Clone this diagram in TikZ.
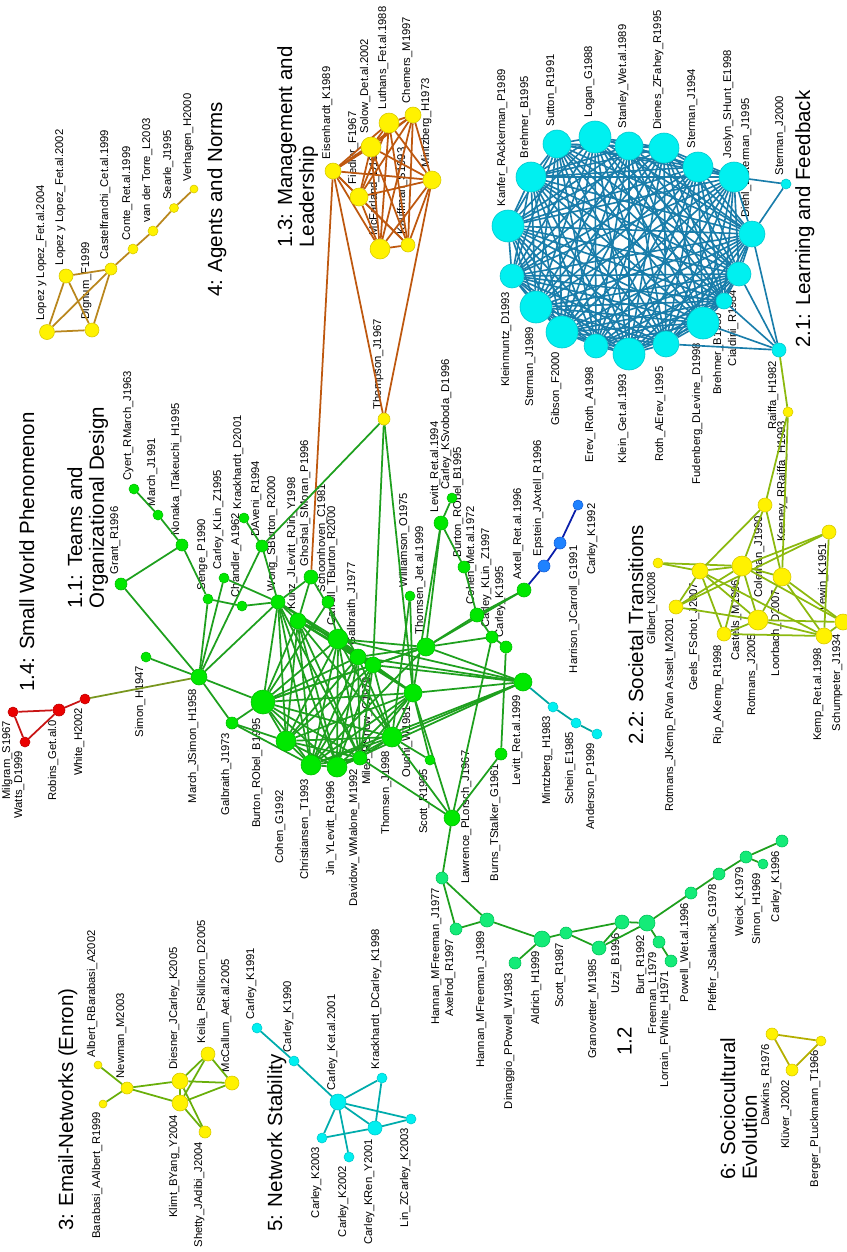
\documentclass[tikz,border=0pt]{standalone}
\usepackage{fontspec}
\setmainfont{Liberation Sans}
\usepackage{tikz}

\definecolor{grnF}{RGB}{0,232,0}
\definecolor{grnD}{RGB}{0,190,0}
\definecolor{grnE}{RGB}{30,160,30}
\definecolor{sprF}{RGB}{20,235,120}
\definecolor{sprD}{RGB}{0,195,90}
\definecolor{yelF}{RGB}{255,242,0}
\definecolor{yelD}{RGB}{215,200,0}
\definecolor{cyaF}{RGB}{0,240,240}
\definecolor{cyaD}{RGB}{0,200,205}
\definecolor{redF}{RGB}{235,0,0}
\definecolor{redD}{RGB}{190,0,0}
\definecolor{bluF}{RGB}{30,130,255}
\definecolor{bluD}{RGB}{20,95,215}
\definecolor{learnE}{RGB}{25,125,170}
\definecolor{mgmtE}{RGB}{190,88,15}
\definecolor{agntE}{RGB}{185,135,30}
\definecolor{socE}{RGB}{140,185,15}
\definecolor{mailE}{RGB}{105,175,10}
\definecolor{stabE}{RGB}{0,172,172}
\definecolor{evoE}{RGB}{180,175,0}
\definecolor{redE}{RGB}{200,20,20}
\definecolor{bluE}{RGB}{10,30,170}
\definecolor{tealE}{RGB}{0,165,160}
\definecolor{linkE}{RGB}{120,150,30}

\pgfdeclarelayer{lbls}
\pgfdeclarelayer{edges}
\pgfsetlayers{lbls,edges,main}

\newcommand\lblfont{\fontsize{9.6}{10}\selectfont}
\newcommand\ttlfont{\fontsize{17.5}{18.5}\selectfont}

\tikzset{
  pap/.style   = {circle, inner sep=0pt, line width=0.5pt, minimum size=#1*0.6mm},
  gp/.style    = {pap=#1, fill=grnF, draw=grnD},
  sp/.style    = {pap=#1, fill=sprF, draw=sprD},
  yp/.style    = {pap=#1, fill=yelF, draw=yelD},
  cp/.style    = {pap=#1, fill=cyaF, draw=cyaD},
  rp/.style    = {pap=#1, fill=redF, draw=redD},
  bp/.style    = {pap=#1, fill=bluF, draw=bluD},
  lbl/.style   = {rotate=90, font=\lblfont, inner sep=0.3pt},
  title/.style = {rotate=90, font=\ttlfont, inner sep=0pt, align=left,
                  anchor=north west},
  ge/.style    = {draw=grnE, line width=1.5pt},
  le/.style    = {draw=learnE, line width=1.4pt},
  me/.style    = {draw=mgmtE, line width=1.5pt},
  ae/.style    = {draw=agntE, line width=1.5pt},
  se/.style    = {draw=socE, line width=1.5pt},
  ee/.style    = {draw=mailE, line width=1.5pt},
  te/.style    = {draw=stabE, line width=1.5pt},
  ve/.style    = {draw=evoE, line width=1.5pt},
  re/.style    = {draw=redE, line width=1.5pt},
  be/.style    = {draw=bluE, line width=1.5pt},
  ce/.style    = {draw=tealE, line width=1.5pt},
}

% label above / below a paper node
\newcommand\lup[3][2.5pt]{\begin{pgfonlayer}{lbls}\node[lbl, anchor=south west] (#2-t) at ([yshift=#1]#2.north) {#3};\end{pgfonlayer}}
\newcommand\ldn[3][2.5pt]{\begin{pgfonlayer}{lbls}\node[lbl, anchor=south east] (#2-t) at ([yshift=-#1]#2.south) {#3};\end{pgfonlayer}}
\newcommand\pup[4]{\node[#1] (#2) at (#3) {}; \lup{#2}{#4}}
\newcommand\pdn[4]{\node[#1] (#2) at (#3) {}; \ldn{#2}{#4}}
% all pairs of a list
\newcommand\clique[2]{\foreach \a [count=\i] in {#2}{\foreach \b [count=\j] in {#2}{\ifnum\i<\j\relax\draw[#1] (\a) -- (\b);\fi}}}

\begin{document}
\begin{tikzpicture}[x=0.3mm, y=-0.3mm]
  \useasboundingbox (0,0) rectangle (847,1252);

  % cluster titles
  \node[title] (t14) at (19,692)  {1.4: Small World Phenomenon};
  \node[title] (t11) at (67,609)  {1.1: Teams and\\Organizational Design};
  \node[title] (t4)  at (207,297) {4: Agents and Norms};
  \node[title] (t13) at (277,248) {1.3: Management and\\Leadership};
  \node[title] (t21) at (795,348) {2.1: Learning and Feedback};
  \node[title] (t22) at (628,745) {2.2: Societal Transitions};
  \node[title] (t3)  at (58,1231) {3: Email-Networks (Enron)};
  \node[title] (t5)  at (267,1232) {5: Network Stability};
  \node[title] (t12) at (617,1056) {1.2};
  \node[title] (t6)  at (720,1180) {6: Sociocultural\\Evolution};

  % 1.4 small world
  \pdn{rp=5}{milgram}{13,712}{Milgram\_S1967}
  \pdn{rp=5}{watts}{25,742}{Watts\_D1999}
  \pdn{rp=6}{robins}{59,710}{Robins\_Get.al.0}
  \pdn{rp=5}{whiteh}{85,699}{White\_H2002}

  % 4 agents and norms
  \pup{yp=7.5}{lopez04}{47,332}{Lopez y Lopez\_Fet.al.2004}
  \pup{yp=7}{lopez02}{66,276}{Lopez y Lopez\_Fet.al.2002}
  \pup{yp=7}{dignum}{92,330}{Dignum\_F1999}
  \pup{yp=6}{castel}{111,269}{Castelfranchi\_Cet.al.1999}
  \pup{yp=5}{conte}{133,249}{Conte\_Ret.al.1999}
  \pup{yp=5}{vdtorre}{153,231}{van der Torre\_L2003}
  \pup{yp=4.5}{searle}{174,208}{Searle\_J1995}
  \pup{yp=4}{verhagen}{194,189}{Verhagen\_H2000}

  % 1.3 management and leadership
  \pup{yp=8}{eisen}{333,171}{Eisenhardt\_K1989}
  \pup{yp=9}{fiedler}{359,197}{Fiedler\_F1967}
  \pup{yp=10}{solow}{371,147}{Solow\_Det.al.2002}
  \pup{yp=10}{luthans}{389,123}{Luthans\_Fet.al.1988}
  \pup{yp=8}{chemers}{413,115}{Chemers\_M1997}
  \pup{yp=9}{mintz73}{432,180}{Mintzberg\_H1973}
  \pup{yp=10}{mcfar}{380,249}{McFarland\_D1959}
  \pup{yp=7}{kauff}{408,245}{Kauffman\_S1993}
  \pup{yp=6}{thompson}{384,419}{Thompson\_J1967}

  % 2.1 learning and feedback
  \pup{cp=16}{kanfer}{508,226}{Kanfer\_RAckerman\_P1989}
  \pup{cp=15}{brehm95}{531,177}{Brehmer\_B1995}
  \pup{cp=14}{sutton}{557,144}{Sutton\_R1991}
  \pup{cp=16}{logan}{595,137}{Logan\_G1988}
  \pup{cp=14}{stanley}{629,146}{Stanley\_Wet.al.1989}
  \pup{cp=15}{dienes}{664,148}{Dienes\_ZFahey\_R1995}
  \pup{cp=15}{ster94}{698,167}{Sterman\_J1994}
  \pup{cp=15}{joslyn}{734,177}{Joslyn\_SHunt\_E1998}
  \pup{cp=13}{diehl}{752,234}{Diehl\_ESterman\_J1995}
  \pdn{cp=12}{cialdini}{739,274}{Cialdini\_R1984}
  \pdn{cp=8}{brehm80}{724,301}{Brehmer\_B1980}
  \pdn{cp=16}{fudenb}{703,323}{Fudenberg\_DLevine\_D1998}
  \node[cp=13] (rotherev) at (666,344) {};
  \ldn[7.5pt]{rotherev}{Roth\_AErev\_I1995}
  \pdn{cp=16}{klein}{629,354}{Klein\_Get.al.1993}
  \node[cp=12] (erevroth) at (596,346) {};
  \ldn[7pt]{erevroth}{Erev\_IRoth\_A1998}
  \pdn{cp=16}{gibson}{562,332}{Gibson\_F2000}
  \pdn{cp=16}{ster89}{536,307}{Sterman\_J1989}
  \pdn{cp=12}{kleinm}{512,276}{Kleinmuntz\_D1993}
  \pup{cp=5}{ster00}{786,184}{Sterman\_J2000}
  \pdn{cp=7}{raiffa82}{779,350}{Raiffa\_H1982}

  % 2.2 societal transitions
  \pdn{yp=5}{keeney}{788,412}{Keeney\_RRaiffa\_H1993}
  \pdn{yp=7}{coleman}{765,505}{Coleman\_J1990}
  \pdn{yp=7}{lewin}{829,532}{Lewin\_K1951}
  \pdn{yp=5}{gilbert}{658,563}{Gilbert\_N2008}
  \pdn{yp=8}{geels}{700,571}{Geels\_FSchot\_J2007}
  \pdn{yp=10}{castells}{742,566}{Castells\_M1996}
  \pdn{yp=9}{loorb}{782,577}{Loorbach\_D2007}
  \pdn{yp=7}{rotjk}{676,607}{Rotmans\_JKemp\_RVan Asselt\_M2001}
  \pdn{yp=10}{rot05}{758,620}{Rotmans\_J2005}
  \pdn{yp=7}{rip}{724,634}{Rip\_AKemp\_R1998}
  \pdn{yp=8}{kemp}{824,636}{Kemp\_Ret.al.1998}
  \pdn{yp=8}{schump}{843,622}{Schumpeter\_J1934}

  % 1.1 teams and organizational design
  \pup{gp=5}{cyert}{134,489}{Cyert\_RMarch\_J1963}
  \pup{gp=5}{march91}{158,515}{March\_J1991}
  \pup{gp=6}{nonaka}{182,545}{Nonaka\_ITakeuchi\_H1995}
  \pup{gp=6}{grant}{121,584}{Grant\_R1996}
  \pup{gp=5}{senge}{208,599}{Senge\_P1990}
  \pup{gp=5}{cklin95}{224,578}{Carley\_KLin\_Z1995}
  \pup{gp=5}{chandler}{242,606}{Chandler\_A1962}
  \pup{gp=5}{krack01}{244,518}{Krackhardt\_D2001}
  \pup{gp=6}{daveni}{262,546}{DAveni\_R1994}
  \pup{gp=7}{wong}{278,602}{Wong\_SBurton\_R2000}
  \pup{gp=8}{kunz}{298,621}{Kunz\_JLevitt\_RJin\_Y1998}
  \pup{gp=7}{ghoshal}{311,577}{Ghoshal\_SMoran\_P1996}
  \pup{gp=6}{schoon}{328,602}{Schoonhoven\_C1981}
  \pup{gp=10}{carroll}{338,639}{Carroll\_TBurton\_R2000}
  \pup{gp=8}{galb77}{358,657}{Galbraith\_J1977}
  \pdn{gp=8}{miles}{373,665}{Miles\_RSnow\_C1978}
  \pup{gp=5}{willi}{410,596}{Williamson\_O1975}
  \pup{gp=9}{thom99}{426,647}{Thomsen\_Jet.al.1999}
  \pup{gp=7}{lev94}{441,523}{Levitt\_Ret.al.1994}
  \pup{gp=5}{csvob}{452,498}{Carley\_KSvoboda\_D1996}
  \pup{gp=6}{burtU}{464,567}{Burton\_RObel\_B1995}
  \pup{gp=7}{cohen72}{477,615}{Cohen\_Met.al.1972}
  \pup{gp=6}{cklin97}{492,637}{Carley\_KLin\_Z1997}
  \pup{gp=6}{ck95}{506,647}{Carley\_K1995}
  \pup{gp=7}{axtell}{524,590}{Axtell\_Ret.al.1996}
  \pdn{gp=9}{lev99}{523,682}{Levitt\_Ret.al.1999}
  \pdn{gp=5}{simon47}{146,657}{Simon\_H1947}
  \pdn{gp=8}{msimon}{199,677}{March\_JSimon\_H1958}
  \pdn{gp=6}{galb73}{232,723}{Galbraith\_J1973}
  \pdn{gp=12}{burton95}{263,702}{Burton\_RObel\_B1995}
  \node[gp=10] (coheng) at (286,741) {};
  \ldn[11.5mm]{coheng}{Cohen\_G1992}
  \pdn{gp=10}{christ}{311,765}{Christiansen\_T1993}
  \pdn{gp=10}{jin}{337,767}{Jin\_YLevitt\_R1996}
  \pdn{gp=7}{davidow}{360,758}{Davidow\_WMalone\_M1992}
  \pdn{gp=10}{thom98}{392,737}{Thomsen\_J1998}
  \pdn{gp=9}{ouchi}{413,693}{Ouchi\_W1981}
  \pdn{gp=5}{scott95}{430,760}{Scott\_R1995}
  \pdn{gp=6}{burns}{501,754}{Burns\_TStalker\_G1961}
  \node[gp=8] (lawr) at (452,818) {};
  \begin{pgfonlayer}{lbls}
    \node[lbl, anchor=south east] (lawr-t) at (472,750) {Lawrence\_PLorsch\_J1967};
  \end{pgfonlayer}

  % small side chains
  \pup{bp=6}{epstein}{544,566}{Epstein\_JAxtell\_R1996}
  \node[bp=6] (harrison) at (560,543) {};
  \node[bp=5] (ck92) at (578,505) {};
  \begin{pgfonlayer}{lbls}
    \node[lbl, anchor=south east] (harrison-t) at (580,545) {Harrison\_JCarroll\_G1991};
    \node[lbl, anchor=south east] (ck92-t) at (598,503) {Carley\_K1992};
  \end{pgfonlayer}
  \pdn{cp=5}{mintz83}{553,707}{Mintzberg\_H1983}
  \pdn{cp=5}{schein}{576,723}{Schein\_E1985}
  \pdn{cp=5}{anders}{597,734}{Anderson\_P1999}

  % 1.2
  \pdn{sp=6}{hann77}{442,878}{Hannan\_MFreeman\_J1977}
  \pdn{sp=6}{axel}{456,929}{Axelrod\_R1997}
  \pdn{sp=7}{hann89}{487,920}{Hannan\_MFreeman\_J1989}
  \pdn{sp=6}{dimag}{515,963}{Dimaggio\_PPowell\_W1983}
  \pdn{sp=8}{aldr}{542,939}{Aldrich\_H1999}
  \pdn{sp=6}{scott87}{566,933}{Scott\_R1987}
  \pdn{sp=7}{granov}{599,948}{Granovetter\_M1985}
  \pdn{sp=7}{uzzi}{622,922}{Uzzi\_B1996}
  \pdn{sp=8}{burt}{647,923}{Burt\_R1992}
  \pdn{sp=6}{freeman}{659,942}{Freeman\_L1979}
  \pdn{sp=6}{lorrain}{671,961}{Lorrain\_FWhite\_H1971}
  \pdn{sp=6}{powell}{691,893}{Powell\_Wet.al.1996}
  \pdn{sp=6}{pfeffer}{719,874}{Pfeffer\_JSalancik\_G1978}
  \pdn{sp=6}{weick}{746,857}{Weick\_K1979}
  \pdn{sp=5}{simon69}{763,864}{Simon\_H1969}
  \pdn{sp=6}{ck96}{782,841}{Carley\_K1996}

  % 3 email networks
  \pup{yp=4}{albert}{98,1065}{Albert\_RBarabasi\_A2002}
  \pdn{yp=4}{barab}{103,1104}{Barabasi\_AAlbert\_R1999}
  \pup{yp=6}{newman}{127,1088}{Newman\_M2003}
  \pup{yp=8}{diesner}{180,1081}{Diesner\_JCarley\_K2005}
  \pdn{yp=8}{klimt}{180,1103}{Klimt\_BYang\_Y2004}
  \pup{yp=7}{keila}{208,1054}{Keila\_PSkillicorn\_D2005}
  \pup{yp=7}{mccall}{232,1083}{McCallum\_Aet.al.2005}
  \pdn{yp=6}{shetty}{205,1132}{Shetty\_JAdibi\_J2004}

  % 5 network stability
  \pup{cp=5}{ck91}{257,1028}{Carley\_K1991}
  \pup{cp=5}{ck90}{294,1061}{Carley\_K1990}
  \pup{cp=8}{cket01}{338,1102}{Carley\_Ket.al.2001}
  \pup{cp=5}{krack98}{382,1078}{Krackhardt\_DCarley\_K1998}
  \pdn{cp=5}{ck03}{322,1138}{Carley\_K2003}
  \pdn{cp=5}{ck02}{349,1157}{Carley\_K2002}
  \pdn{cp=7}{ckren}{375,1128}{Carley\_KRen\_Y2001}
  \pdn{cp=5}{linz}{411,1119}{Lin\_ZCarley\_K2003}

  % 6 sociocultural evolution
  \pdn{yp=6}{dawkins}{772,1034}{Dawkins\_R1976}
  \pdn{yp=6}{kluver}{792,1070}{Klüver\_J2002}
  \pdn{yp=5}{berger}{821,1041}{Berger\_PLuckmann\_T1966}

  \begin{pgfonlayer}{edges}
    \foreach \a/\b in {milgram/robins, milgram/watts, watts/robins, robins/whiteh}
      \draw[re] (\a) -- (\b);
    \draw[linkE, line width=1.5pt] (whiteh) -- (msimon);
    \foreach \a/\b in {lopez04/lopez02, lopez04/dignum, lopez04/castel, lopez02/dignum,
        lopez02/castel, dignum/castel, castel/conte, conte/vdtorre, vdtorre/searle,
        searle/verhagen}
      \draw[ae] (\a) -- (\b);
    \clique{me}{eisen,fiedler,solow,luthans,chemers,mintz73,mcfar,kauff}
    \foreach \a/\b in {thompson/eisen, thompson/mintz73, ghoshal/eisen}
      \draw[me] (\a) -- (\b);
    \clique{le}{kanfer,brehm95,sutton,logan,stanley,dienes,ster94,joslyn,diehl,
      cialdini,brehm80,fudenb,rotherev,klein,erevroth,gibson,ster89,kleinm}
    \foreach \b in {joslyn, diehl}
      \draw[le] (ster00) -- (\b);
    \foreach \b in {diehl, cialdini, brehm80, fudenb, rotherev}
      \draw[le] (raiffa82) -- (\b);
    \draw[se] (raiffa82) -- (keeney);
    \foreach \a/\b in {keeney/coleman, keeney/loorb, coleman/geels, coleman/castells,
        coleman/loorb, lewin/castells, lewin/rotjk, lewin/kemp, gilbert/castells,
        gilbert/geels, geels/castells, geels/rotjk, geels/rip, geels/rot05, geels/kemp,
        castells/loorb, castells/rot05, castells/rip, castells/rotjk, castells/schump,
        loorb/rot05, loorb/kemp, loorb/schump, rot05/kemp, rot05/rip, rot05/schump,
        rotjk/rot05, rip/kemp, kemp/schump}
      \draw[se] (\a) -- (\b);
    \clique{ge}{burton95,coheng,christ,jin,davidow,thom98,ouchi,miles,galb77,carroll,kunz}
    \foreach \a/\b in {cyert/march91, march91/nonaka, nonaka/grant, nonaka/senge,
        grant/msimon, simon47/msimon, msimon/senge, msimon/cklin95, msimon/daveni,
        msimon/wong, msimon/galb73, msimon/burton95, senge/chandler, chandler/wong,
        cklin95/wong, krack01/daveni, daveni/wong, wong/kunz, wong/burton95,
        wong/coheng, wong/christ, wong/jin, wong/carroll, wong/galb77, wong/miles,
        wong/davidow, ghoshal/wong, ghoshal/galb77, ghoshal/kunz, schoon/carroll,
        schoon/burton95, galb73/burton95, galb73/coheng, galb73/christ,
        thompson/daveni, thompson/miles, thompson/ouchi, willi/ouchi, willi/thom98,
        thom99/burton95, thom99/carroll, thom99/galb77, thom99/miles, thom99/christ,
        thom99/lev94, thom99/lev99, thom99/cohen72, thom99/cklin97, thom99/axtell,
        lev94/csvob, lev94/burtU, lev94/ouchi, burtU/cohen72, cohen72/axtell,
        cohen72/cklin97, cklin97/ck95, cklin97/lawr, ck95/burns, lev99/ouchi,
        lev99/miles, lev99/thom98, lev99/carroll, lev99/galb77, lev99/jin,
        lev99/christ, scott95/ouchi, scott95/thom98, lawr/thom98, lawr/davidow,
        lawr/ouchi, lawr/burns, lawr/hann77}
      \draw[ge] (\a) -- (\b);
    \foreach \a/\b in {axtell/epstein, epstein/harrison, harrison/ck92}
      \draw[be] (\a) -- (\b);
    \foreach \a/\b in {lev99/mintz83, mintz83/schein, schein/anders}
      \draw[ce] (\a) -- (\b);
    \foreach \a/\b in {hann77/axel, hann77/hann89, axel/hann89, hann89/aldr, aldr/dimag,
        aldr/scott87, scott87/uzzi, scott87/granov, granov/uzzi, granov/burt, uzzi/burt,
        burt/freeman, freeman/lorrain, burt/powell, powell/pfeffer, pfeffer/weick,
        weick/simon69, weick/ck96}
      \draw[ge] (\a) -- (\b);
    \foreach \a/\b in {albert/newman, barab/newman, newman/diesner, newman/klimt,
        diesner/klimt, diesner/keila, diesner/mccall, diesner/shetty, klimt/keila,
        klimt/mccall, klimt/shetty, keila/mccall}
      \draw[ee] (\a) -- (\b);
    \foreach \a/\b in {ck91/ck90, ck90/cket01, cket01/krack98, cket01/ck03, cket01/ck02,
        cket01/ckren, cket01/linz, krack98/ckren, ck03/ckren, ckren/linz}
      \draw[te] (\a) -- (\b);
    \foreach \a/\b in {dawkins/kluver, kluver/berger, berger/dawkins}
      \draw[ve] (\a) -- (\b);
  \end{pgfonlayer}
\end{tikzpicture}
\end{document}
